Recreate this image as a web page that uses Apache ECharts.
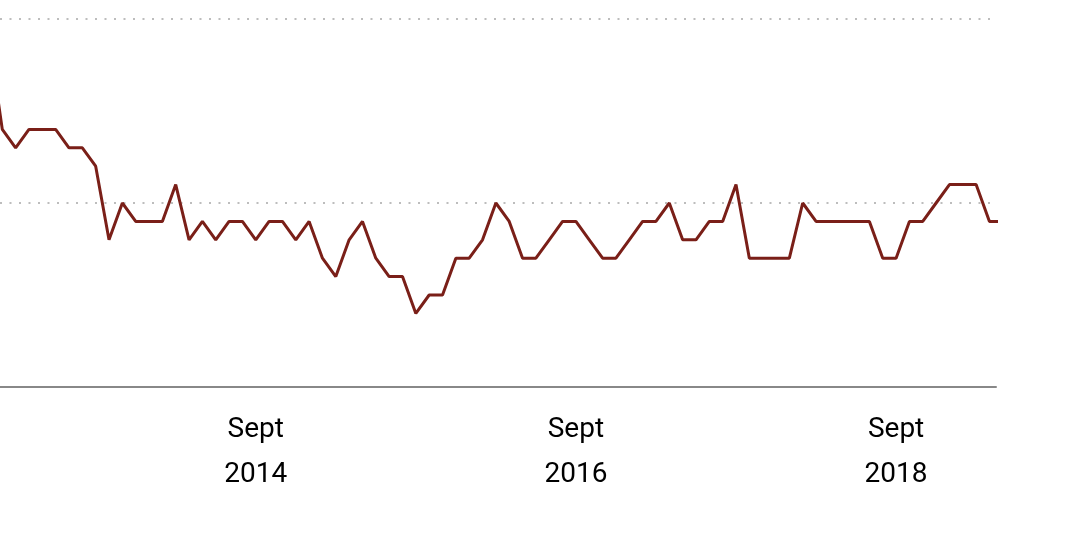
<!DOCTYPE html>
<html>
<head>
<meta charset="utf-8">
<script src="https://cdn.jsdelivr.net/npm/echarts@6/dist/echarts.min.js"></script>
<style>
html,body{margin:0;padding:0;background:#fff;}
#chart{width:1080px;height:534px;}
</style>
</head>
<body>
<div id="chart"></div>
<script>
// Monthly series, Jan 2013 .. May 2019
const startYear = 2013;
const months = [];
for (let i = 0; i < 77; i++) {
  const y = startYear + Math.floor(i / 12);
  const m = (i % 12) + 1;
  months.push(y + '-' + (m < 10 ? '0' + m : m));
}
const values = [
  1.9, 1.4, 1.3, 1.4, 1.4, 1.4, 1.3, 1.3, 1.2, 0.8, 1.0, 0.9,
  0.9, 0.9, 1.1, 0.8, 0.9, 0.8, 0.9, 0.9, 0.8, 0.9, 0.9, 0.8,
  0.9, 0.7, 0.6, 0.8, 0.9, 0.7, 0.6, 0.6, 0.4, 0.5, 0.5, 0.7,
  0.7, 0.8, 1.0, 0.9, 0.7, 0.7, 0.8, 0.9, 0.9, 0.8, 0.7, 0.7,
  0.8, 0.9, 0.9, 1.0, 0.8, 0.8, 0.9, 0.9, 1.1, 0.7, 0.7, 0.7,
  0.7, 1.0, 0.9, 0.9, 0.9, 0.9, 0.9, 0.7, 0.7, 0.9, 0.9, 1.0,
  1.1, 1.1, 1.1, 0.9, 0.9
];
const tickMonths = ['2014-09', '2016-09', '2018-09'];
const tickLabels = ['Sept\n2014', 'Sept\n2016', 'Sept\n2018'];
const yTicks = [0, 1, 2];

const monthIndex = s => months.indexOf(s);
const seriesData = months.map((m, i) => [i, values[i]]);
const tickIdx = tickMonths.map(monthIndex);

const chart = echarts.init(document.getElementById('chart'), null, {renderer: 'canvas'});
chart.setOption({
  animation: false,
  backgroundColor: '#ffffff',
  grid: {left: 0, right: 84, top: 19, bottom: 147, containLabel: false},
  xAxis: {
    type: 'value',
    min: 0.828,
    max: 75.49,
    axisLine: {show: true, lineStyle: {color: '#888888', width: 2}},
    axisTick: {show: false},
    splitLine: {show: false},
    axisLabel: {
      customValues: tickIdx,
      formatter: v => tickLabels[tickIdx.indexOf(Math.round(v))] || '',
      fontFamily: 'Roboto',
      fontSize: 28,
      lineHeight: 45,
      color: '#000000',
      margin: 20
    }
  },
  yAxis: {
    type: 'value',
    min: yTicks[0],
    max: yTicks[yTicks.length - 1],
    interval: 1,
    axisLine: {show: false},
    axisTick: {show: false},
    axisLabel: {show: false},
    splitLine: {
      show: true,
      showMinLine: false,
      lineStyle: {color: '#bdbdbd', width: 2, type: [2, 7.5]}
    }
  },
  series: [{
    type: 'line',
    data: seriesData,
    showSymbol: false,
    clip: true,
    lineStyle: {color: '#7a1f18', width: 3},
    itemStyle: {color: '#7a1f18'}
  }]
});
</script>
</body>
</html>
